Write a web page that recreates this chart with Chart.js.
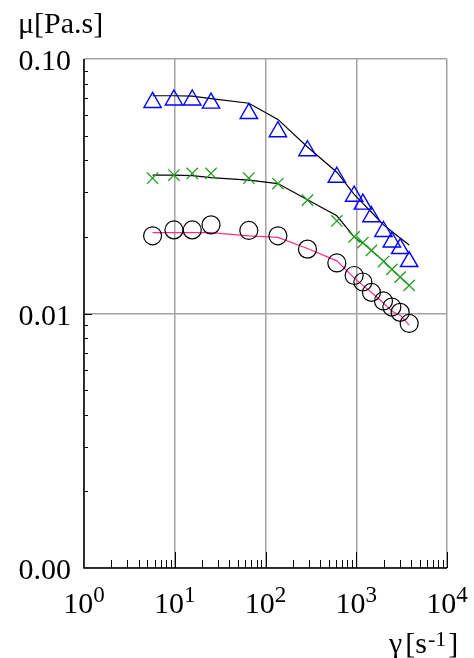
<!DOCTYPE html>
<html>
<head>
<meta charset="utf-8">
<script src="https://cdn.jsdelivr.net/npm/chart.js@4/dist/chart.umd.min.js"></script>
<style>
  html, body { margin: 0; padding: 0; background: #fff; }
  canvas { display: block; }
</style>
</head>
<body>
<canvas id="viscosityChart" width="474" height="658"></canvas>
<script>
// shear rate (1/s) shared by all three samples
const shearRate = [5.7, 9.8, 15.6, 25.1, 65.5, 137, 290, 611, 948, 1183, 1472, 1995, 2468, 3048, 3831];

// measured viscosity (Pa.s)
const sampleA = [0.0675, 0.069, 0.069, 0.0671, 0.0611, 0.0518, 0.0436, 0.0343, 0.0289, 0.0269, 0.0240, 0.0210, 0.0191, 0.0180, 0.0160];
const sampleB = [0.0340, 0.0350, 0.0355, 0.0355, 0.0340, 0.0324, 0.0279, 0.0231, 0.0200, 0.0190, 0.0177, 0.0160, 0.0149, 0.0139, 0.0129];
const sampleC = [0.0202, 0.0213, 0.0213, 0.0223, 0.0212, 0.0202, 0.0179, 0.0158, 0.0141, 0.0133, 0.0121, 0.0112, 0.0106, 0.0101, 0.00914];

// model curves
const fitA = [0.0717, 0.0717, 0.0715, 0.0699, 0.0670, 0.0579, 0.0451, 0.0359, 0.0294, 0.0271, 0.0250, 0.0223, 0.0210, 0.0198, 0.0186];
const fitB = [0.0350, 0.0350, 0.0348, 0.0342, 0.0334, 0.0324, 0.0280, 0.0242, 0.0200, 0.0189, 0.0177, 0.0161, 0.0149, 0.0139, 0.0129];
const fitC = [0.0208, 0.0208, 0.0208, 0.0208, 0.0202, 0.0199, 0.0180, 0.0161, 0.0138, 0.0129, 0.0121, 0.0110, 0.0102, 0.00985, 0.0090];

// axes
const xTickValues = [1, 10, 100, 1000, 10000];
const xTickExponents = ['0', '1', '2', '3', '4'];
const yTickValues = [0.001, 0.01, 0.1];
const yTickLabels = ['0.00', '0.01', '0.10'];

const SERIF = "'Liberation Serif', 'DejaVu Serif', serif";

function toPoints(values) {
  return shearRate.map((x, i) => ({ x: x, y: values[i] }));
}

function isDecade(v) {
  const l = Math.log10(v);
  return Math.abs(l - Math.round(l)) < 1e-6;
}

// 2..9 multiples inside each decade, used for the small tick marks
function minorTicks(min, max) {
  const out = [];
  for (let d = min; d < max * 0.999; d *= 10) {
    for (let m = 2; m <= 9; m++) out.push(d * m);
  }
  return out;
}

// frame, inward ticks and all text
const framePlugin = {
  id: 'frame',
  afterDraw(chart) {
    const ctx = chart.ctx;
    const xs = chart.scales.x;
    const ys = chart.scales.y;
    const a = chart.chartArea;

    ctx.save();
    ctx.strokeStyle = '#000';

    // x ticks, pointing up from the bottom axis
    ctx.lineWidth = 1;
    xTickValues.slice(1).forEach(v => {
      const px = Math.round(xs.getPixelForValue(v)) + 0.5;
      ctx.beginPath();
      ctx.moveTo(px, a.bottom);
      ctx.lineTo(px, a.bottom - 16);
      ctx.stroke();
    });
    minorTicks(1, 10000).forEach(v => {
      const px = Math.round(xs.getPixelForValue(v)) + 0.5;
      ctx.beginPath();
      ctx.moveTo(px, a.bottom);
      ctx.lineTo(px, a.bottom - 8);
      ctx.stroke();
    });

    // y ticks, pointing right from the left axis
    yTickValues.slice(1, -1).forEach(v => {
      const py = Math.round(ys.getPixelForValue(v)) + 0.5;
      ctx.beginPath();
      ctx.moveTo(a.left, py);
      ctx.lineTo(a.left + 8, py);
      ctx.stroke();
    });
    minorTicks(0.001, 0.1).forEach(v => {
      const py = Math.round(ys.getPixelForValue(v)) + 0.5;
      ctx.beginPath();
      ctx.moveTo(a.left, py);
      ctx.lineTo(a.left + 4, py);
      ctx.stroke();
    });

    // left and bottom axis lines
    ctx.lineWidth = 1.5;
    ctx.beginPath();
    ctx.moveTo(a.left, a.top);
    ctx.lineTo(a.left, a.bottom);
    ctx.lineTo(a.right, a.bottom);
    ctx.stroke();

    ctx.fillStyle = '#000';

    // y tick labels
    ctx.font = '30px ' + SERIF;
    ctx.textAlign = 'right';
    ctx.textBaseline = 'alphabetic';
    yTickValues.forEach((v, i) => {
      const py = ys.getPixelForValue(v);
      ctx.fillText(yTickLabels[i], a.left - 13, py + 11);
    });

    // x tick labels as powers of ten
    ctx.textAlign = 'left';
    xTickValues.forEach((v, i) => {
      const px = xs.getPixelForValue(v);
      ctx.font = '30px ' + SERIF;
      const wBase = ctx.measureText('10').width;
      ctx.font = '23px ' + SERIF;
      const wExp = ctx.measureText(xTickExponents[i]).width;
      const x0 = px - (wBase + wExp) / 2;
      ctx.font = '30px ' + SERIF;
      ctx.fillText('10', x0, 613);
      ctx.font = '23px ' + SERIF;
      ctx.fillText(xTickExponents[i], x0 + wBase, 601.5);
    });

    // axis titles
    ctx.font = '30px ' + SERIF;
    ctx.fillText('\u03bc[Pa.s]', 18, 33, 92);

    let x = 389;
    ctx.fillText('\u03b3', x, 653);
    x += ctx.measureText('\u03b3').width + 3;
    ctx.fillText('[s', x, 653);
    x += ctx.measureText('[s').width + 1;
    ctx.font = '22px ' + SERIF;
    ctx.fillText('-1', x, 646);
    x += ctx.measureText('-1').width + 2;
    ctx.font = '30px ' + SERIF;
    ctx.fillText(']', x, 653);

    ctx.restore();
  }
};

const gridOptions = {
  drawTicks: false,
  lineWidth: 1.5,
  color: ctx => (ctx.tick && isDecade(ctx.tick.value)) ? '#a3a3a3' : 'rgba(0,0,0,0)'
};

new Chart(document.getElementById('viscosityChart'), {
  type: 'scatter',
  data: {
    datasets: [
      {
        data: toPoints(sampleA),
        pointStyle: 'triangle',
        pointRadius: 10,
        borderColor: '#0000ff',
        backgroundColor: 'rgba(0,0,0,0)',
        borderWidth: 1.4
      },
      {
        data: toPoints(sampleB),
        pointStyle: 'crossRot',
        pointRadius: 8,
        borderColor: '#22a022',
        backgroundColor: 'rgba(0,0,0,0)',
        borderWidth: 1.3
      },
      {
        data: toPoints(sampleC),
        pointStyle: 'circle',
        pointRadius: 9,
        borderColor: '#000',
        backgroundColor: 'rgba(0,0,0,0)',
        borderWidth: 1.2
      },
      {
        data: toPoints(fitA),
        showLine: true,
        pointRadius: 0,
        borderColor: '#000',
        borderWidth: 1.2
      },
      {
        data: toPoints(fitB),
        showLine: true,
        pointRadius: 0,
        borderColor: '#000',
        borderWidth: 1.2,
        segment: {
          borderColor: c => c.p0.parsed.x >= 900 ? '#0b5a0b' : '#000'
        }
      },
      {
        data: toPoints(fitC),
        showLine: true,
        pointRadius: 0,
        borderColor: '#ff2b8c',
        borderWidth: 1.2
      }
    ]
  },
  options: {
    responsive: false,
    animation: false,
    devicePixelRatio: 1,
    layout: { padding: { left: 84, top: 59, right: 27, bottom: 90 } },
    plugins: {
      legend: { display: false },
      tooltip: { enabled: false }
    },
    scales: {
      x: {
        type: 'logarithmic',
        min: 1,
        max: 10000,
        afterBuildTicks: scale => { scale.ticks = xTickValues.map(v => ({ value: v })); },
        ticks: { display: false },
        border: { display: false },
        grid: gridOptions
      },
      y: {
        type: 'logarithmic',
        min: 0.001,
        max: 0.1,
        afterBuildTicks: scale => { scale.ticks = yTickValues.map(v => ({ value: v })); },
        ticks: { display: false },
        border: { display: false },
        grid: gridOptions
      }
    }
  },
  plugins: [framePlugin]
});
</script>
</body>
</html>
